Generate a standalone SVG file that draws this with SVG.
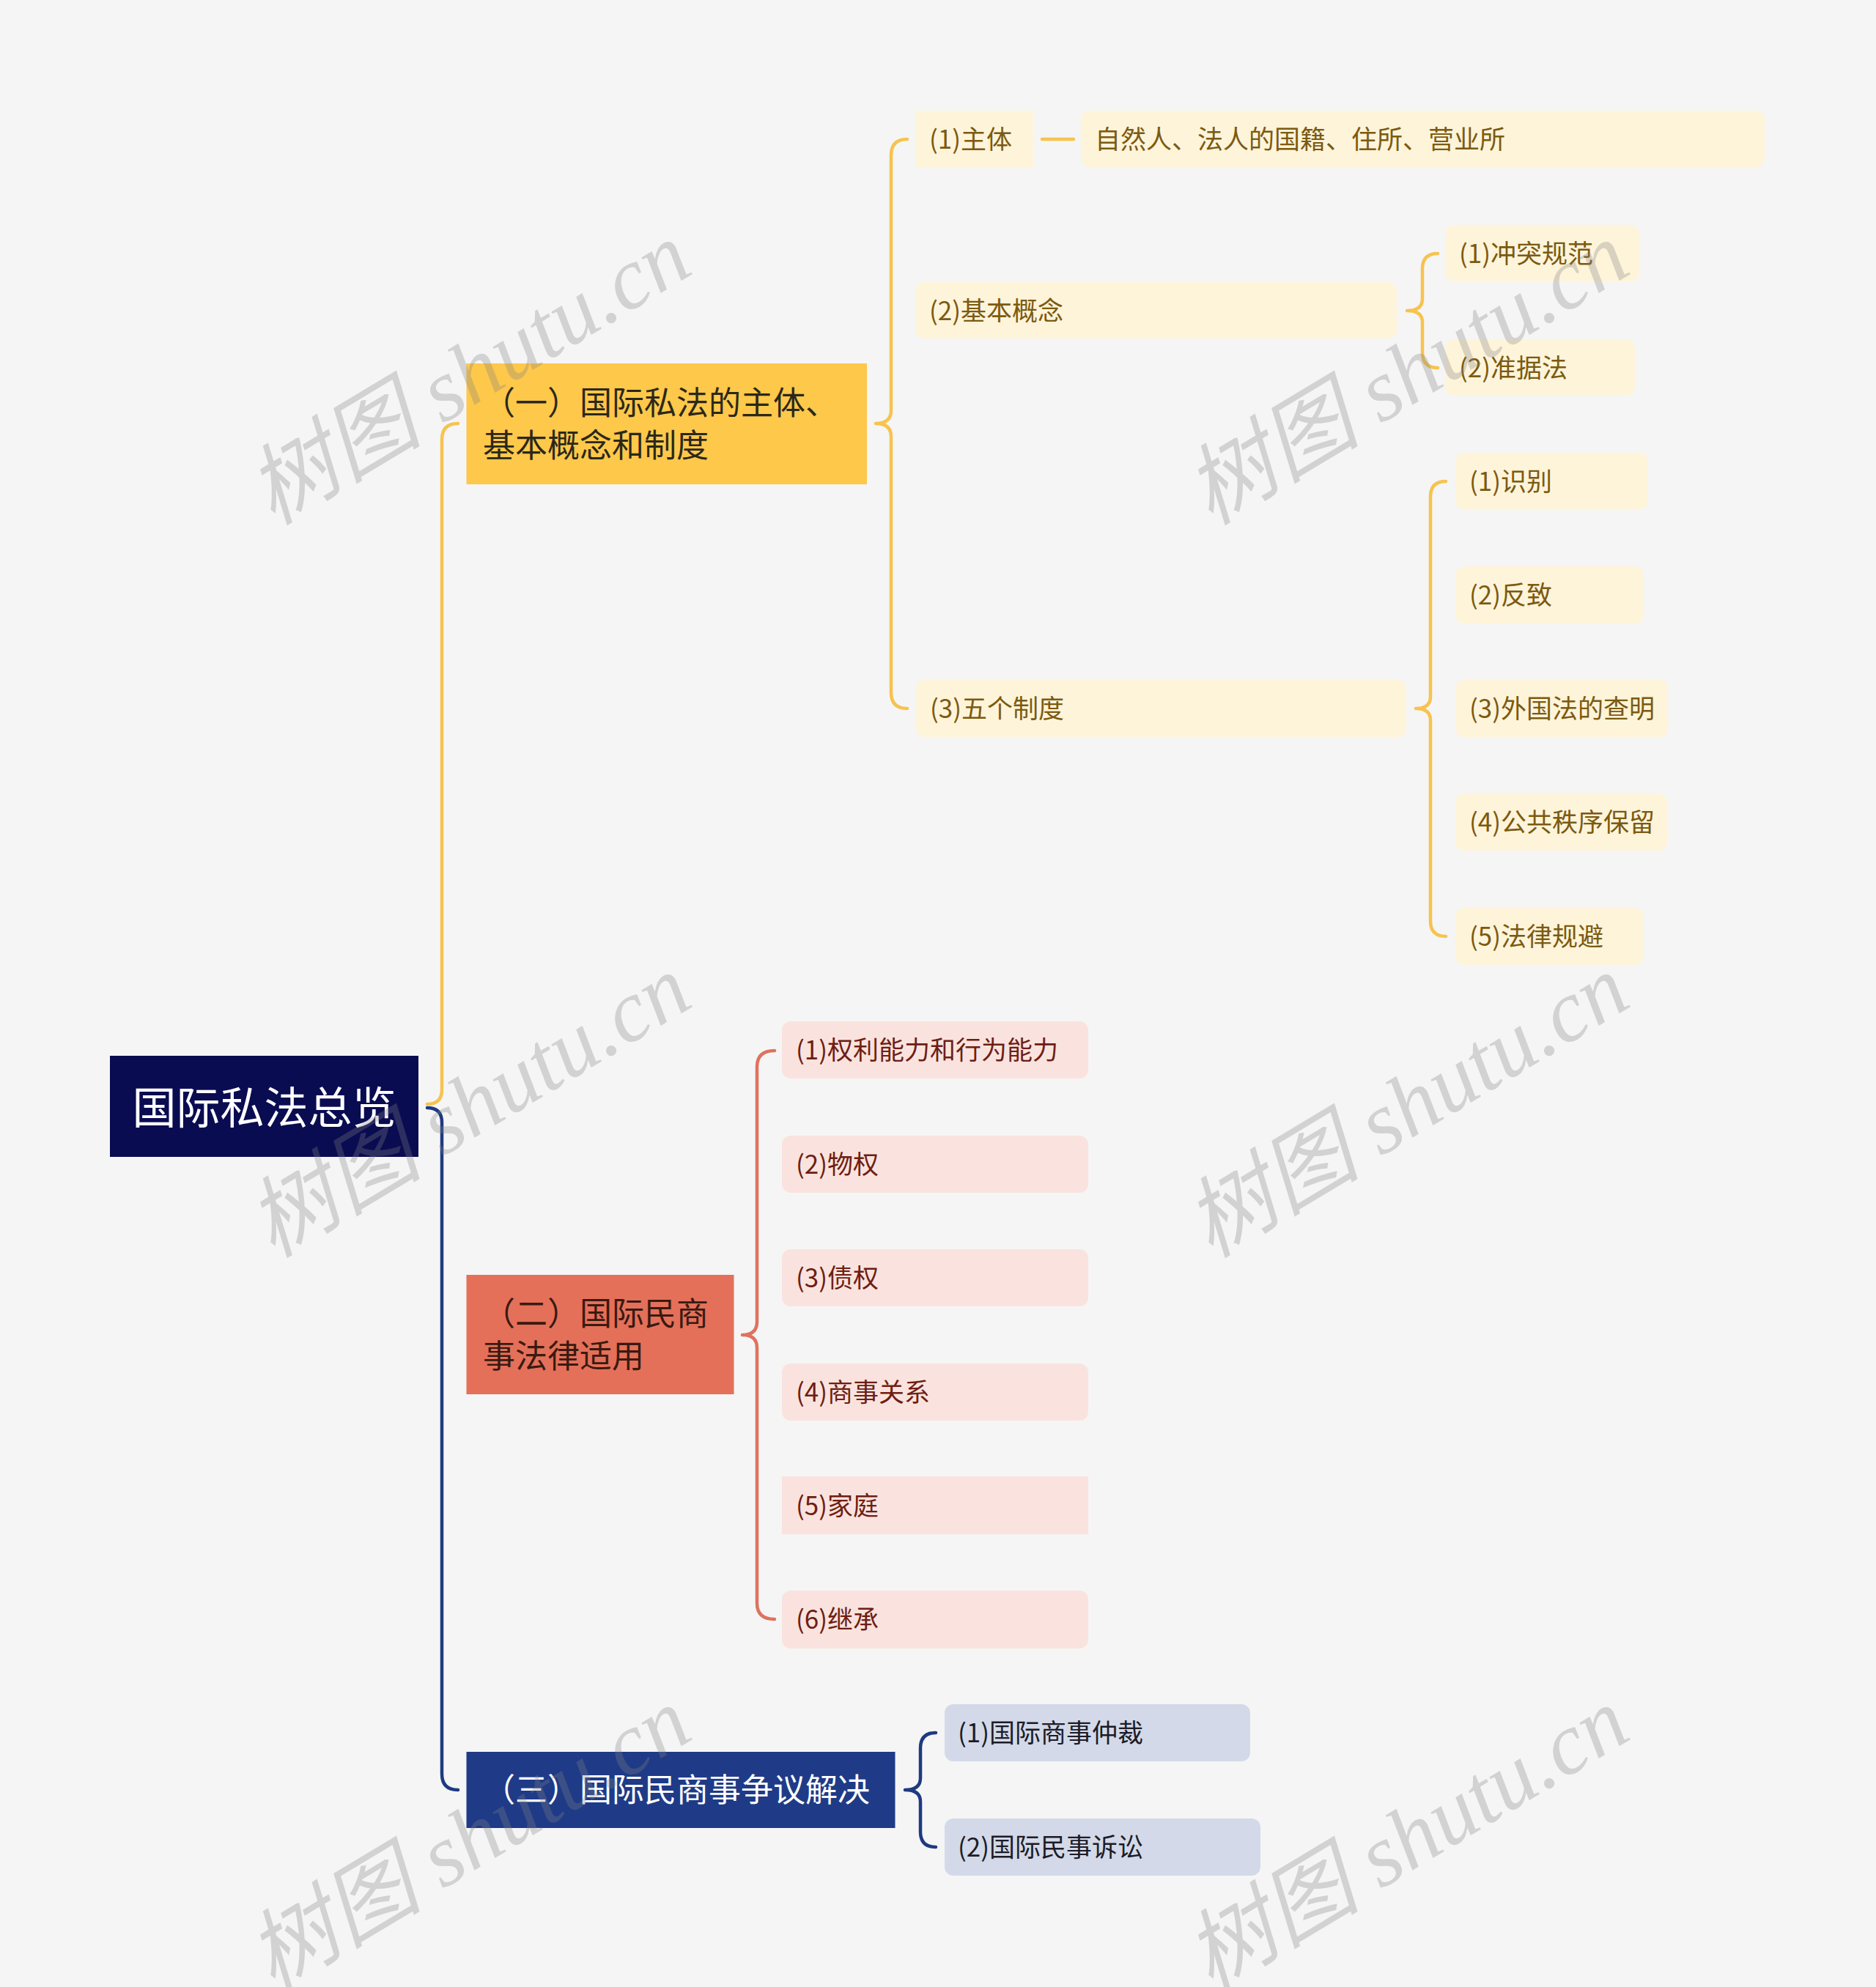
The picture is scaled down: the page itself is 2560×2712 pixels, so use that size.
<svg xmlns="http://www.w3.org/2000/svg" width="2560" height="2712" viewBox="0 0 2560 2712">
<style>
  text { font-family: "Noto Sans CJK SC", "Noto Sans", sans-serif; dominant-baseline: central; }
  .root-t { font-size: 60px; fill: #FFFFFF; }
  .b-t { font-size: 44px; }
  .c-t { font-size: 35px; }
  .yc { fill: #FEF4DA; }
  .yt { fill: #7C5A10; }
  .pc { fill: #FAE3DE; }
  .pt { fill: #6E1E14; }
  .bc { fill: #D3D9E8; }
  .bt { fill: #1C1C28; }
  .con { fill: none; stroke-width: 4.5; stroke-linecap: round; stroke-linejoin: round; }
  .cy { stroke: #F7C34F; }
  .cp { stroke: #DE735F; }
  .cb { stroke: #1E3A80; }
  .wm { font-family: "Liberation Serif", "Noto Sans CJK SC", serif; font-style: italic; font-size: 120px; fill: #808080; fill-opacity: 0.3; text-anchor: middle; }
</style>
<rect x="0" y="0" width="2560" height="2712" fill="#F5F5F5"/>

<g id="connectors">
  <path class="con cy" d="M 583 1507 Q 603 1507 603 1487 L 603 600 Q 603 578 625 578"/>
  <path class="con cb" d="M 583 1512 Q 603 1512 603 1532 L 603 2421 Q 603 2443 625 2443"/>
  <path class="con cy" d="M 1238 190 Q 1216 190 1216 212 L 1216 560 Q 1216 578 1195 578 Q 1216 578 1216 596 L 1216 945 Q 1216 967 1238 967"/>
  <path class="con cy" stroke-width="5.5" d="M 1422 190 L 1465 190"/>
  <path class="con cy" d="M 1962 346 Q 1941 346 1941 367 L 1941 408 Q 1941 424 1920 424 Q 1941 424 1941 440 L 1941 481 Q 1941 502 1962 502"/>
  <path class="con cy" d="M 1973 657 Q 1952 657 1952 678 L 1952 951 Q 1952 967 1932 967 Q 1952 967 1952 983 L 1952 1257 Q 1952 1278 1973 1278"/>
  <path class="con cp" d="M 1057 1434 Q 1033 1434 1033 1456 L 1033 1804 Q 1033 1822 1013 1822 Q 1033 1822 1033 1840 L 1033 2188 Q 1033 2210 1057 2210"/>
  <path class="con cb" d="M 1277 2365 Q 1256 2365 1256 2386 L 1256 2427 Q 1256 2443 1235 2443 Q 1256 2443 1256 2459 L 1256 2500 Q 1256 2521 1277 2521"/>
</g>

<g id="root">
  <rect x="150" y="1441" width="421" height="138" fill="#0A0C52"/>
  <text class="root-t" x="360.5" y="1507" text-anchor="middle">国际私法总览</text>
</g>

<g id="branch1">
  <rect x="636.5" y="496" width="546.5" height="165" fill="#FEC84B"/>
  <text class="b-t" fill="#2B2819" x="659" y="547">（一）国际私法的主体、</text>
  <text class="b-t" fill="#2B2819" x="659" y="605">基本概念和制度</text>
</g>
<g id="branch2">
  <rect x="636.5" y="1740" width="365" height="163" fill="#E4705A"/>
  <text class="b-t" fill="#3A1A10" x="659" y="1790">（二）国际民商</text>
  <text class="b-t" fill="#3A1A10" x="659" y="1848">事法律适用</text>
</g>
<g id="branch3">
  <rect x="636.5" y="2391" width="585" height="104" fill="#1F3B87"/>
  <text class="b-t" fill="#FFFFFF" x="659" y="2440">（三）国际民商事争议解决</text>
</g>

<g id="n-zhuti">
  <rect class="yc" x="1249" y="151" width="161" height="77"/>
  <text class="c-t yt" x="1268" y="187">(1)主体</text>
</g>
<g id="n-ziranren">
  <rect class="yc" x="1475" y="151" width="933" height="77" rx="12"/>
  <text class="c-t yt" x="1494" y="187">自然人、法人的国籍、住所、营业所</text>
</g>
<g id="n-jiben">
  <rect class="yc" x="1249" y="385" width="657" height="77" rx="12"/>
  <text class="c-t yt" x="1268" y="421">(2)基本概念</text>
</g>
<g id="n-chongtu">
  <rect class="yc" x="1972" y="307" width="265" height="77" rx="12"/>
  <text class="c-t yt" x="1991" y="343">(1)冲突规范</text>
</g>
<g id="n-zhunju">
  <rect class="yc" x="1972" y="463" width="259" height="77" rx="12"/>
  <text class="c-t yt" x="1991" y="499">(2)准据法</text>
</g>
<g id="n-wuge">
  <rect class="yc" x="1250" y="928" width="669" height="78" rx="12"/>
  <text class="c-t yt" x="1269" y="964">(3)五个制度</text>
</g>
<g id="n-shibie">
  <rect class="yc" x="1986" y="618" width="263" height="77" rx="12"/>
  <text class="c-t yt" x="2005" y="654">(1)识别</text>
</g>
<g id="n-fanzhi">
  <rect class="yc" x="1986" y="773" width="257" height="78" rx="12"/>
  <text class="c-t yt" x="2005" y="809">(2)反致</text>
</g>
<g id="n-waiguo">
  <rect class="yc" x="1986" y="928" width="290" height="78" rx="12"/>
  <text class="c-t yt" x="2005" y="964">(3)外国法的查明</text>
</g>
<g id="n-gonggong">
  <rect class="yc" x="1986" y="1083" width="289" height="78" rx="12"/>
  <text class="c-t yt" x="2005" y="1119">(4)公共秩序保留</text>
</g>
<g id="n-guibi">
  <rect class="yc" x="1986" y="1239" width="257" height="78" rx="12"/>
  <text class="c-t yt" x="2005" y="1275">(5)法律规避</text>
</g>

<g id="n-quanli">
  <rect class="pc" x="1067" y="1394" width="418" height="78" rx="12"/>
  <text class="c-t pt" x="1086" y="1430">(1)权利能力和行为能力</text>
</g>
<g id="n-wuquan">
  <rect class="pc" x="1067" y="1550" width="418" height="78" rx="12"/>
  <text class="c-t pt" x="1086" y="1586">(2)物权</text>
</g>
<g id="n-zhaiquan">
  <rect class="pc" x="1067" y="1705" width="418" height="78" rx="12"/>
  <text class="c-t pt" x="1086" y="1741">(3)债权</text>
</g>
<g id="n-shangshi">
  <rect class="pc" x="1067" y="1861" width="418" height="78" rx="12"/>
  <text class="c-t pt" x="1086" y="1897">(4)商事关系</text>
</g>
<g id="n-jiating">
  <rect class="pc" x="1067" y="2015" width="418" height="79"/>
  <text class="c-t pt" x="1086" y="2052">(5)家庭</text>
</g>
<g id="n-jicheng">
  <rect class="pc" x="1067" y="2171" width="418" height="79" rx="12"/>
  <text class="c-t pt" x="1086" y="2207">(6)继承</text>
</g>

<g id="n-zhongcai">
  <rect class="bc" x="1289" y="2326" width="417" height="78" rx="12"/>
  <text class="c-t bt" x="1307" y="2362">(1)国际商事仲裁</text>
</g>
<g id="n-susong">
  <rect class="bc" x="1289" y="2482" width="431" height="78" rx="12"/>
  <text class="c-t bt" x="1307" y="2518">(2)国际民事诉讼</text>
</g>

<g id="watermarks">
  <text class="wm" transform="translate(640 510) rotate(-31)">树图 shutu.cn</text>
  <text class="wm" transform="translate(1920 510) rotate(-31)">树图 shutu.cn</text>
  <text class="wm" transform="translate(640 1510) rotate(-31)">树图 shutu.cn</text>
  <text class="wm" transform="translate(1920 1510) rotate(-31)">树图 shutu.cn</text>
  <text class="wm" transform="translate(640 2510) rotate(-31)">树图 shutu.cn</text>
  <text class="wm" transform="translate(1920 2510) rotate(-31)">树图 shutu.cn</text>
</g>
</svg>
